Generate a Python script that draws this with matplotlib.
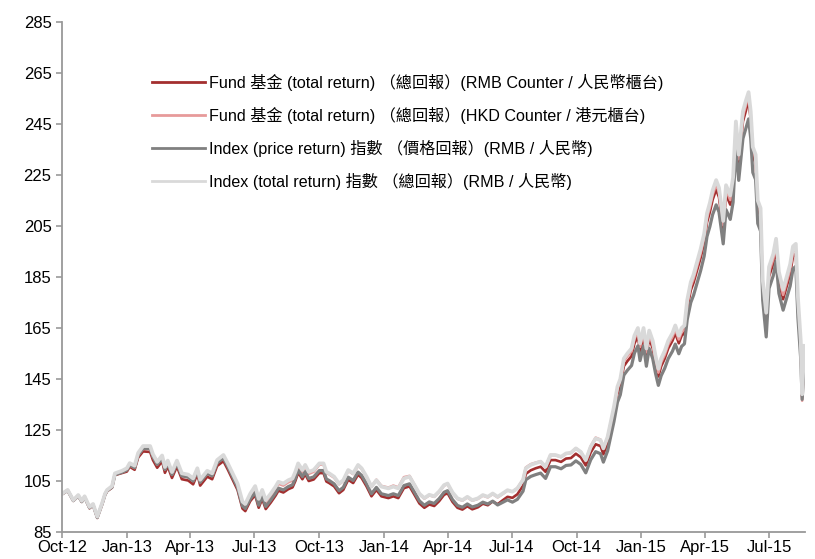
import matplotlib
matplotlib.use("Agg")
import matplotlib.pyplot as plt
import matplotlib.dates as mdates
import numpy as np
import pandas as pd

plt.rcParams['font.family'] = ['Liberation Sans', 'Noto Sans CJK TC', 'DejaVu Sans']

dates = [
    '2012-10-01', '2012-10-09', '2012-10-17', '2012-10-24', '2012-10-29', '2012-11-02', '2012-11-09', '2012-11-14',
    '2012-11-20', '2012-11-27', '2012-12-01', '2012-12-04', '2012-12-11', '2012-12-15', '2012-12-25', '2013-01-01',
    '2013-01-05', '2013-01-12', '2013-01-17', '2013-01-24', '2013-02-03', '2013-02-07', '2013-02-13', '2013-02-20',
    '2013-02-24', '2013-02-28', '2013-03-06', '2013-03-13', '2013-03-20', '2013-03-29', '2013-04-05', '2013-04-11',
    '2013-04-15', '2013-04-25', '2013-05-02', '2013-05-09', '2013-05-18', '2013-05-24', '2013-05-31', '2013-06-07',
    '2013-06-14', '2013-06-18', '2013-06-25', '2013-07-02', '2013-07-07', '2013-07-12', '2013-07-17', '2013-07-24',
    '2013-07-31', '2013-08-04', '2013-08-11', '2013-08-18', '2013-08-24', '2013-08-28', '2013-09-01', '2013-09-07',
    '2013-09-11', '2013-09-16', '2013-09-23', '2013-10-01', '2013-10-07', '2013-10-11', '2013-10-15', '2013-10-22',
    '2013-10-29', '2013-11-04', '2013-11-11', '2013-11-18', '2013-11-25', '2013-11-30', '2013-12-07', '2013-12-14',
    '2013-12-21', '2013-12-28', '2014-01-07', '2014-01-14', '2014-01-21', '2014-01-29', '2014-02-06', '2014-02-13',
    '2014-02-20', '2014-02-27', '2014-03-06', '2014-03-13', '2014-03-20', '2014-03-27', '2014-04-01', '2014-04-08',
    '2014-04-15', '2014-04-22', '2014-04-29', '2014-05-06', '2014-05-14', '2014-05-21', '2014-05-28', '2014-06-04',
    '2014-06-11', '2014-06-18', '2014-06-25', '2014-07-02', '2014-07-09', '2014-07-17', '2014-07-21', '2014-07-28',
    '2014-08-04', '2014-08-11', '2014-08-18', '2014-08-25', '2014-09-01', '2014-09-09', '2014-09-16', '2014-09-23',
    '2014-09-30', '2014-10-07', '2014-10-14', '2014-10-21', '2014-10-28', '2014-11-04', '2014-11-08', '2014-11-14',
    '2014-11-18', '2014-11-23', '2014-11-28', '2014-12-02', '2014-12-07', '2014-12-12', '2014-12-18', '2014-12-22',
    '2014-12-27', '2014-12-30', '2015-01-04', '2015-01-08', '2015-01-12', '2015-01-17', '2015-01-21', '2015-01-25',
    '2015-01-29', '2015-02-03', '2015-02-08', '2015-02-14', '2015-02-18', '2015-02-23', '2015-02-27', '2015-03-03',
    '2015-03-07', '2015-03-12', '2015-03-16', '2015-03-22', '2015-03-26', '2015-03-31', '2015-04-04', '2015-04-08',
    '2015-04-12', '2015-04-17', '2015-04-21', '2015-04-27', '2015-05-01', '2015-05-07', '2015-05-11', '2015-05-15',
    '2015-05-19', '2015-05-25', '2015-05-29', '2015-06-02', '2015-06-05', '2015-06-08', '2015-06-12', '2015-06-15',
    '2015-06-19', '2015-06-22', '2015-06-27', '2015-07-01', '2015-07-07', '2015-07-11', '2015-07-15', '2015-07-21',
    '2015-07-25', '2015-07-31', '2015-08-04', '2015-08-08', '2015-08-11', '2015-08-15', '2015-08-17', '2015-08-20',
]

# Index (total return)
index_tr = [
    100.0, 101.5, 97.5, 99.5, 97.2, 99.0, 94.8, 96.0, 91.0, 96.4, 100.0, 101.5, 103.0, 108.0, 109.0, 110.0,
    112.0, 111.0, 116.0, 118.7, 118.7, 115.5, 112.5, 115.0, 110.5, 113.0, 108.5, 113.0, 108.0, 107.5, 106.0, 110.0,
    105.5, 109.0, 108.0, 113.2, 115.2, 112.0, 108.0, 104.0, 96.9, 96.0, 100.0, 103.0, 98.0, 101.5, 97.5, 100.0,
    102.8, 104.7, 104.0, 105.3, 106.0, 108.6, 111.9, 109.3, 111.3, 108.6, 109.3, 111.9, 111.9, 108.6, 108.0, 106.7,
    104.0, 105.3, 109.3, 108.0, 111.3, 110.0, 106.7, 102.8, 105.3, 102.8, 102.1, 102.8, 102.1, 106.0, 106.7, 103.4,
    100.0, 98.3, 99.6, 99.0, 100.9, 103.4, 104.0, 100.5, 98.2, 97.5, 98.8, 97.5, 98.2, 99.5, 98.8, 100.1,
    98.8, 100.1, 101.4, 100.8, 102.1, 105.4, 110.0, 111.3, 112.0, 112.6, 110.6, 115.2, 115.2, 114.5, 115.8, 116.1,
    117.8, 116.4, 113.2, 118.4, 121.7, 121.0, 117.8, 122.3, 127.6, 134.1, 142.0, 145.0, 153.0, 155.0, 157.0, 162.0,
    165.0, 159.0, 165.0, 157.0, 164.0, 160.0, 154.0, 149.0, 153.0, 156.0, 160.0, 163.0, 166.0, 162.0, 165.0, 166.0,
    176.0, 183.0, 186.0, 192.0, 196.0, 202.0, 210.0, 214.0, 219.0, 223.0, 220.0, 207.0, 221.0, 217.0, 224.0, 246.0,
    233.0, 250.0, 254.0, 257.5, 250.0, 236.0, 233.0, 215.0, 212.0, 184.0, 171.0, 189.0, 194.0, 200.0, 187.0, 180.0,
    184.0, 190.0, 197.0, 198.0, 177.0, 160.0, 139.0, 158.0,
]

# Fund (RMB counter)
fund_rmb = [
    99.8, 101.2, 97.2, 99.1, 96.8, 98.6, 94.3, 95.5, 90.5, 95.9, 99.5, 101.0, 102.4, 107.3, 108.1, 108.7,
    110.6, 109.4, 114.2, 116.6, 116.4, 113.2, 110.2, 112.7, 108.2, 110.7, 106.2, 110.7, 105.7, 105.2, 103.7, 107.7,
    103.2, 106.7, 105.7, 110.9, 112.8, 109.6, 105.6, 101.5, 94.2, 93.2, 97.1, 99.5, 94.5, 98.0, 94.0, 96.5,
    99.3, 101.2, 100.5, 101.8, 102.5, 105.0, 108.3, 105.7, 107.7, 105.0, 105.6, 108.1, 108.1, 104.8, 104.2, 102.9,
    100.2, 101.5, 105.5, 104.2, 107.5, 106.2, 102.9, 99.0, 101.5, 99.0, 98.3, 99.0, 98.3, 102.2, 102.9, 99.6,
    96.2, 94.5, 95.8, 95.2, 97.1, 99.6, 100.2, 96.8, 94.5, 93.8, 95.1, 93.9, 94.7, 96.1, 95.5, 97.0,
    95.9, 97.4, 98.8, 98.4, 99.8, 103.2, 107.8, 109.2, 110.0, 110.6, 108.6, 113.2, 113.2, 112.5, 113.8, 114.0,
    115.7, 114.3, 111.1, 116.2, 119.4, 118.7, 115.5, 119.9, 125.1, 131.5, 139.3, 142.2, 150.0, 152.0, 154.0, 158.9,
    161.8, 155.9, 162.0, 154.0, 161.0, 157.0, 151.0, 146.0, 150.0, 153.0, 157.0, 160.0, 163.0, 159.0, 162.0, 163.0,
    172.9, 179.8, 182.8, 188.7, 192.6, 198.5, 206.4, 210.4, 215.3, 219.3, 216.3, 203.5, 217.3, 213.4, 220.3, 242.0,
    229.2, 246.0, 250.0, 254.5, 246.5, 232.5, 229.5, 211.6, 208.6, 180.6, 166.8, 185.2, 190.2, 196.2, 183.2, 176.3,
    180.2, 186.2, 193.1, 194.1, 173.3, 156.5, 138.0, 155.0,
]

# Fund (HKD counter)
fund_hkd = [
    99.9, 101.4, 97.3, 99.3, 97.0, 98.8, 94.6, 95.8, 90.8, 96.2, 99.8, 101.3, 102.7, 107.6, 108.5, 109.3,
    111.2, 110.1, 115.0, 117.7, 117.6, 114.5, 111.5, 114.0, 109.5, 112.0, 107.5, 112.0, 107.0, 106.5, 105.0, 109.0,
    104.5, 108.0, 107.0, 112.2, 114.1, 110.9, 106.9, 102.9, 95.7, 94.8, 98.8, 102.2, 97.2, 100.7, 96.7, 99.2,
    102.0, 103.9, 103.2, 104.5, 105.2, 107.8, 111.1, 108.5, 110.5, 107.8, 108.6, 111.4, 111.5, 108.2, 107.6, 106.3,
    103.7, 105.0, 109.0, 107.7, 111.0, 109.8, 106.5, 102.7, 105.5, 103.1, 102.4, 103.2, 102.5, 106.5, 107.0, 103.5,
    99.9, 98.1, 99.4, 98.8, 100.7, 103.2, 103.8, 100.3, 98.0, 97.3, 98.6, 97.3, 98.0, 99.3, 98.6, 99.9,
    98.6, 99.9, 101.3, 100.8, 102.2, 105.6, 110.3, 111.6, 112.2, 112.7, 110.6, 115.2, 115.1, 114.4, 115.7, 116.0,
    117.8, 116.4, 113.1, 118.6, 122.0, 121.2, 117.8, 122.1, 127.2, 133.6, 141.4, 144.3, 152.0, 154.0, 155.8, 160.7,
    163.6, 157.6, 163.5, 155.5, 162.5, 158.5, 152.5, 147.5, 151.5, 154.5, 158.5, 161.5, 164.5, 160.5, 163.5, 164.5,
    174.4, 181.4, 184.4, 190.3, 194.3, 200.3, 208.2, 212.2, 217.2, 221.2, 218.2, 205.3, 219.2, 215.2, 222.2, 244.1,
    231.2, 248.1, 252.1, 256.5, 248.5, 234.5, 231.5, 213.4, 210.4, 182.4, 169.0, 187.0, 192.0, 198.0, 185.0, 178.0,
    182.0, 188.0, 195.0, 196.0, 175.0, 158.0, 136.5, 153.0,
]

# Index (price return)
index_pr = [
    99.9, 101.3, 97.3, 99.2, 96.9, 98.7, 94.5, 95.7, 90.7, 96.1, 99.7, 101.2, 102.6, 107.5, 108.4, 109.3,
    111.3, 110.2, 115.1, 117.8, 117.7, 114.5, 111.5, 114.0, 109.5, 112.0, 107.5, 112.0, 107.0, 106.5, 105.0, 109.0,
    104.5, 108.0, 107.0, 112.1, 114.0, 110.8, 106.7, 102.5, 95.2, 94.2, 98.0, 100.5, 95.5, 99.0, 95.0, 97.5,
    100.3, 102.2, 101.5, 102.8, 103.5, 106.0, 109.3, 106.7, 108.7, 106.0, 106.6, 109.1, 109.1, 105.8, 105.2, 103.9,
    101.2, 102.5, 106.5, 105.2, 108.5, 107.2, 103.9, 100.0, 102.5, 100.0, 99.3, 100.0, 99.3, 103.2, 103.9, 100.6,
    97.2, 95.5, 96.8, 96.2, 98.1, 100.6, 101.2, 97.7, 95.4, 94.7, 96.0, 94.8, 95.5, 96.7, 96.0, 97.1,
    95.6, 96.6, 97.6, 96.7, 97.8, 101.0, 105.5, 106.8, 107.5, 108.1, 106.0, 110.6, 110.6, 109.8, 111.1, 111.3,
    112.9, 111.5, 108.2, 113.3, 116.5, 115.7, 112.4, 116.8, 122.0, 128.3, 135.9, 138.8, 146.5, 148.4, 150.3, 155.1,
    158.0, 152.2, 158.0, 150.0, 157.0, 153.0, 147.2, 142.5, 146.3, 149.2, 153.0, 155.9, 158.7, 154.9, 157.8, 158.8,
    168.4, 175.0, 177.9, 183.7, 187.5, 193.2, 200.9, 204.7, 209.5, 213.3, 210.5, 198.0, 211.4, 207.6, 214.3, 235.5,
    222.9, 239.3, 243.1, 247.0, 239.5, 226.0, 223.2, 206.0, 203.0, 176.0, 161.5, 180.5, 185.5, 191.3, 178.6, 172.0,
    175.8, 181.5, 188.2, 189.2, 169.0, 152.8, 137.0, 150.5,
]

labels = [
    'Fund 基金 (total return) （總回報）(RMB Counter / 人民幣櫃台)',
    'Fund 基金 (total return) （總回報）(HKD Counter / 港元櫃台)',
    'Index (price return) 指數 （價格回報）(RMB / 人民幣)',
    'Index (total return) 指數 （總回報）(RMB / 人民幣)',
]
colors = ['#a32f2f', '#e79a9a', '#808080', '#d9d9d9']
widths = [1.9, 1.9, 2.3, 2.7]

x = pd.to_datetime(dates)

fig = plt.figure(figsize=(8.15, 5.59), dpi=100)
ax = fig.add_axes([0.0761, 0.0483, 0.9116, 0.9123])

series = [fund_rmb, fund_hkd, index_pr, index_tr]
for s, lab, c, w in zip(series, labels, colors, widths):
    ax.plot(x, s, color=c, lw=w, label=lab)

ax.set_ylim(85, 285)
ax.set_yticks(np.arange(85, 286, 20))
ax.set_xlim(pd.Timestamp('2012-10-01'), pd.Timestamp('2015-08-21'))
ax.xaxis.set_major_locator(mdates.MonthLocator(bymonth=[1, 4, 7, 10]))
ax.xaxis.set_major_formatter(mdates.DateFormatter('%b-%y'))

for sp in ['top', 'right']:
    ax.spines[sp].set_visible(False)
for sp in ['left', 'bottom']:
    ax.spines[sp].set_color('#999999')
    ax.spines[sp].set_linewidth(1.3)
ax.tick_params(axis='both', colors='#999999', length=4, width=1.2, labelsize=12, labelcolor='black')
ax.tick_params(axis='x', pad=2)

leg = ax.legend(loc='upper left', bbox_to_anchor=(0.1016, 0.927), frameon=False, fontsize=11.6,
                handlelength=3.3, handletextpad=0.25, labelspacing=1.0)
for line in leg.get_lines():
    line.set_linewidth(2.0)

fig.savefig('out.png', dpi=100)
